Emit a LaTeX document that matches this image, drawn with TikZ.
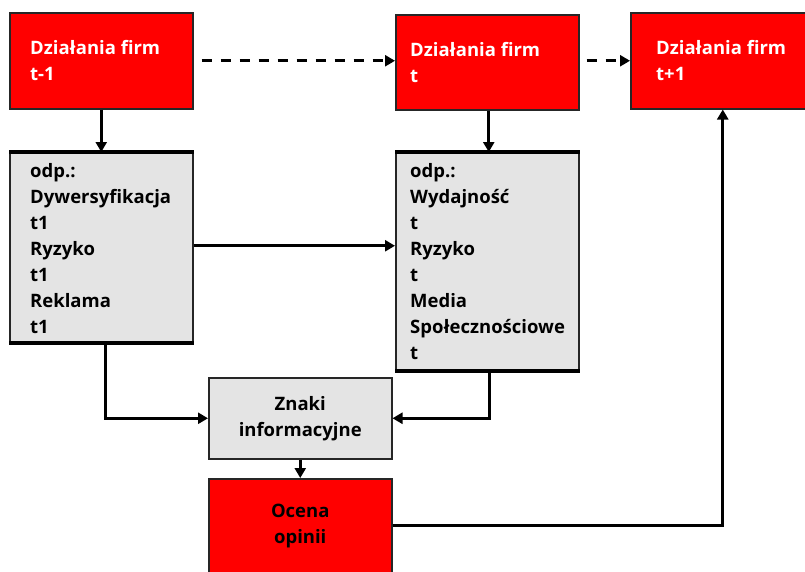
\documentclass[tikz,border=0pt]{standalone}
\usepackage{fontspec}
\setmainfont{Open Sans}
\usetikzlibrary{arrows.meta}
\definecolor{boxred}{RGB}{255,0,0}
\definecolor{boxgray}{RGB}{228,228,228}
\begin{document}
\begin{tikzpicture}[x=1pt,y=-1pt,
  box/.style={rectangle, draw=black!85, line width=1.5pt, anchor=north west,
    inner sep=0pt},
  redbox/.style={box, fill=boxred},
  graybox/.style={box, fill=boxgray},
  txt/.style={anchor=west, inner sep=0pt, align=left,
    font=\bfseries\fontsize{18.5}{26}\selectfont},
  ctxt/.style={inner sep=0pt, align=center,
    font=\bfseries\fontsize{18.5}{26}\selectfont},
  arr/.style={line width=2.6pt, -{Triangle[length=10pt,width=11pt]}},
  darr/.style={arr, line width=3pt, dash pattern=on 10pt off 9pt}]
\useasboundingbox (0,0) rectangle (805,571);
\clip (0,0) rectangle (805,571);

% firm activity boxes
\node[redbox, minimum width=183pt, minimum height=96pt] (A) at (9,12) {};
\node[redbox, minimum width=183pt, minimum height=95pt] (B) at (395,14) {};
\node[redbox, minimum width=184pt, minimum height=96pt] (C) at (630,12) {};
\node[txt, text=white] (At) at ([xshift=21pt]A.west) {Działania firm\\t-1};
\node[txt, text=white] (Bt) at ([xshift=15pt]B.west) {Działania firm\\t};
\node[txt, text=white] (Ct) at ([xshift=26pt]C.west) {Działania firm\\t+1};

% response boxes
\node[graybox, minimum width=183pt, minimum height=189pt] (D) at (9,152) {};
\node[graybox, minimum width=183pt, minimum height=217pt] (E) at (395,152) {};
\foreach \n in {D,E}{
  \draw[line width=4pt] (\n.north west) -- (\n.north east);
  \draw[line width=4pt] (\n.south west) -- (\n.south east);
}
\node[txt] (Dt) at ([xshift=21pt,yshift=-1.5pt]D.west)
  {odp.:\\Dywersyfikacja\\t1\\Ryzyko\\t1\\Reklama\\t1};
\node[txt] (Et) at ([xshift=15pt]E.west)
  {odp.:\\Wydajność\\t\\Ryzyko\\t\\Media\\Społecznościowe\\t};

% signals and opinion
\node[graybox, minimum width=183pt, minimum height=81pt] (F) at (208,377) {};
\node[ctxt] (Ft) at (F.center) {Znaki\\informacyjne};
\node[redbox, minimum width=183pt, minimum height=94pt] (G) at (208,478) {};
\node[ctxt] (Gt) at (G.center) {Ocena\\opinii};

% connectors
\draw[darr] ([xshift=8pt]A.east) -- (A.east -| B.west);
\draw[darr] ([xshift=7pt]B.east |- C.west) -- (C.west);
\draw[arr] (A.south) -- (D.north);
\draw[arr] ([xshift=1.5pt]B.south) -- ([xshift=1.5pt]E.north);
\draw[arr] ([yshift=1.5pt]D.east) -- ([yshift=1.5pt]D.east -| E.west);
\draw[arr] ([xshift=4.5pt]D.south) |- (F.west);
\draw[arr] ([xshift=2.5pt]E.south) |- (F.east);
\draw[arr] (F.south) -- (G.north);
\draw[arr] (G.east) -| (C.south);
\end{tikzpicture}
\end{document}
